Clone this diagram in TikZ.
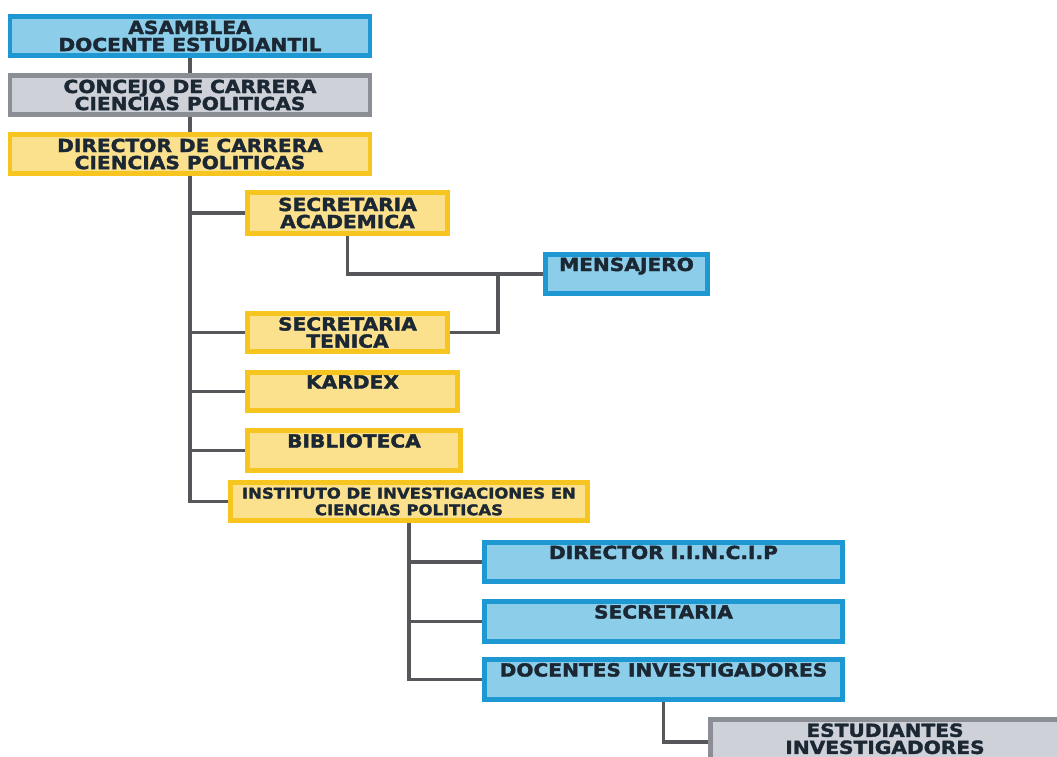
\documentclass[tikz,border=0pt]{standalone}
\usepackage{fontspec}
\setmainfont{DejaVu Sans}[FakeStretch=1.12, BoldFeatures={FakeBold=2}]
\usetikzlibrary{positioning}

\definecolor{bluefill}{HTML}{8CCDEA}
\definecolor{blueline}{HTML}{1D98D2}
\definecolor{grayfill}{HTML}{CED1D8}
\definecolor{grayline}{HTML}{8B8E94}
\definecolor{yellowfill}{HTML}{FBE18E}
\definecolor{yellowline}{HTML}{F6C51F}
\definecolor{inktext}{HTML}{1B2733}
\definecolor{linkgray}{HTML}{55575A}

\begin{document}
\begin{tikzpicture}[
    x=0.75pt, y=-0.75pt,
    every node/.style={font=\bfseries\fontsize{13.5}{12.8}\selectfont, text=inktext},
    unit/.style={
        rectangle,
        line width=3.6pt,
        inner sep=0pt,
        align=center
    },
    bluebox/.style={unit, draw=blueline, fill=bluefill},
    graybox/.style={unit, draw=grayline, fill=grayfill},
    yellowbox/.style={unit, draw=yellowline, fill=yellowfill},
    oneline/.style={text height=9.5pt, text depth=14pt},
    link/.style={draw=linkgray, line width=2.5pt}
]
    \useasboundingbox (0,0) rectangle (1057,757);

    % Top of the chart
    \node (asamblea) [bluebox, minimum width=270pt, minimum height=29.5pt] at (190,36) {ASAMBLEA\\DOCENTE ESTUDIANTIL};
    \node (concejo) [graybox, minimum width=270pt, minimum height=29.5pt] at (190,95) {CONCEJO DE CARRERA\\CIENCIAS POLITICAS};
    \node (director) [yellowbox, minimum width=270pt, minimum height=29.5pt] at (190,154) {DIRECTOR DE CARRERA\\CIENCIAS POLITICAS};

    % Units under the director
    \node (secacad) [yellowbox, minimum width=150pt, minimum height=31pt] at (347.5,213) {SECRETARIA\\ACADEMICA};
    \node (mensajero) [bluebox, oneline, minimum width=121.5pt, minimum height=29.5pt] at (626.5,274) {MENSAJERO};
    \node (sectec) [yellowbox, minimum width=150pt, minimum height=29pt] at (347.5,332.5) {SECRETARIA\\TENICA};
    \node (kardex) [yellowbox, oneline, minimum width=157.5pt, minimum height=29pt] at (352.5,391.5) {KARDEX};
    \node (biblioteca) [yellowbox, oneline, minimum width=160pt, minimum height=30.25pt] at (354,450.5) {BIBLIOTECA};
    \node (instituto) [yellowbox, minimum width=268pt, minimum height=29pt,
        font=\bfseries\fontsize{11}{12.5}\selectfont] at (409,501.5) {INSTITUTO DE INVESTIGACIONES EN\\CIENCIAS POLITICAS};

    % Institute
    \node (dirinst) [bluebox, oneline, minimum width=268.5pt, minimum height=29.5pt] at (663.5,562) {DIRECTOR I.I.N.C.I.P};
    \node (secretaria) [bluebox, oneline, minimum width=268.5pt, minimum height=29.5pt] at (663.5,621.5) {SECRETARIA};
    \node (docentes) [bluebox, oneline, minimum width=268.5pt, minimum height=29.5pt] at (663.5,679.5) {DOCENTES INVESTIGADORES};
    \node (estudiantes) [graybox, text depth=5pt, minimum width=262pt, minimum height=34pt] at (885,742) {ESTUDIANTES\\INVESTIGADORES};

    % Connections
    \draw [link] (asamblea) -- (concejo);
    \draw [link] (concejo) -- (director);
    \foreach \n in {secacad, sectec, kardex, biblioteca, instituto}
        \draw [link] (director.south) |- (\n.west);

    \coordinate (msgjoin) at (498,274);
    \draw [link] (secacad.south) |- (mensajero.west);
    \draw [link] (sectec.east) -| (msgjoin);

    \foreach \n in {dirinst, secretaria, docentes}
        \draw [link] (instituto.south) |- (\n.west);
    \draw [link] (docentes.south) |- (estudiantes.west);

\end{tikzpicture}
\end{document}
